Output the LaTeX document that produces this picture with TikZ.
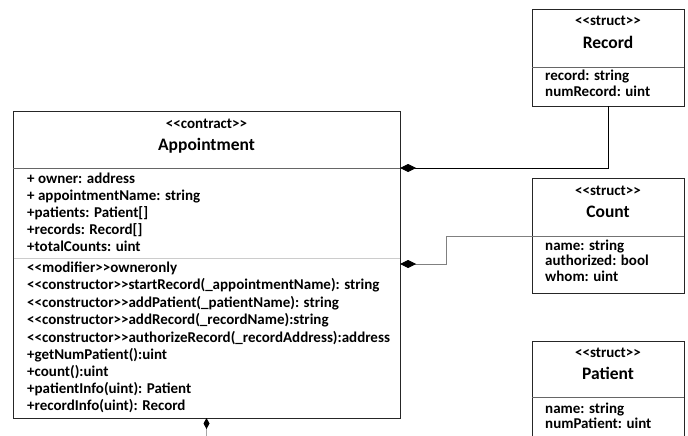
\documentclass[tikz,border=0pt]{standalone}
\usepackage{fontspec}
\setmainfont{Carlito}
\usetikzlibrary{arrows.meta}
\newcommand{\lt}{<{}<}
\newcommand{\gt}{>{}>}
\begin{document}
\begin{tikzpicture}[x=1pt,y=-1pt,
  box/.style={draw=black!85,line width=0.9pt,fill=white},
  row/.style={anchor=mid west,inner sep=0pt,font=\bfseries\fontsize{15}{17}\selectfont},
  stereo/.style={anchor=mid,inner sep=0pt,font=\bfseries\fontsize{15}{17}\selectfont},
  title/.style={anchor=mid,inner sep=0pt,font=\bfseries\fontsize{17.5}{20}\selectfont},
  darkdiv/.style={draw=black!60,line width=0.9pt},
  lightdiv/.style={draw=black!20,line width=0.9pt},
  comp/.style={line width=0.8pt,-{Diamond[length=16pt,width=8pt,color=black]}},
  smallcomp/.style={line width=0.8pt,-{Diamond[length=11pt,width=6pt,color=black]}},
]
\useasboundingbox (0,0) rectangle (688,436);

% contract class
\node[box,minimum width=387pt,minimum height=307pt,inner sep=0pt] (app) at (206.5,264.5) {};
\draw[darkdiv] (13,168) -- (400,168);
\draw[lightdiv] (13.5,258) -- (399.5,258);
\node[stereo] (appst) at (206.5,126) {\lt contract\gt};
\node[title] (appti) at (206.5,148) {Appointment};
\node[row] (a1) at (27,181) {+ owner: address};
\node[row] (a2) at (27,198) {+ appointmentName: string};
\node[row] (a3) at (27,215) {+patients: Patient[]};
\node[row] (a4) at (27,232) {+records: Record[]};
\node[row] (a5) at (27,249) {+totalCounts: uint};
\node[row] (m1) at (27,270) {\lt modifier\gt owneronly};
\node[row] (m2) at (27,287.5) {\lt constructor\gt startRecord(\_appointmentName): string};
\node[row] (m3) at (27,305) {\lt constructor\gt addPatient(\_patientName): string};
\node[row] (m4) at (27,322.5) {\lt constructor\gt addRecord(\_recordName):string};
\node[row] (m5) at (27,340) {\lt constructor\gt authorizeRecord(\_recordAddress):address};
\node[row] (m6) at (27,357) {+getNumPatient():uint};
\node[row] (m7) at (27,374) {+count():uint};
\node[row] (m8) at (27,391) {+patientInfo(uint): Patient};
\node[row] (m9) at (27,408) {+recordInfo(uint): Record};

% struct Record
\node[box,minimum width=152pt,minimum height=97pt,inner sep=0pt] (rec) at (608,57.5) {};
\draw[darkdiv] (532,67) -- (684,67);
\node[stereo] (recst) at (608,23) {\lt struct\gt};
\node[title] (recti) at (608,46) {Record};
\node[row] (r1) at (545,78) {record: string};
\node[row] (r2) at (545,94) {numRecord: uint};

% struct Count
\node[box,minimum width=152pt,minimum height=115pt,inner sep=0pt] (cnt) at (608,235.5) {};
\draw[draw=black!55,line width=0.8pt] (532,236) -- (684,236);
\node[stereo] (cntst) at (608,193) {\lt struct\gt};
\node[title] (cntti) at (608,215) {Count};
\node[row] (c1) at (545,248) {name: string};
\node[row] (c2) at (545,263) {authorized: bool};
\node[row] (c3) at (545,279) {whom: uint};

% struct Patient
\node[box,minimum width=152pt,minimum height=110pt,inner sep=0pt] (pat) at (608,396) {};
\draw[darkdiv] (532,397) -- (684,397);
\node[stereo] (patst) at (608,355) {\lt struct\gt};
\node[title] (patti) at (608,377) {Patient};
\node[row] (p1) at (545,411) {name: string};
\node[row] (p2) at (545,426) {numPatient: uint};

% composition connectors
\coordinate (recend) at (400,168);
\coordinate (cntend) at (400,264);
\coordinate (cntbend) at (446,236);
\coordinate (patend) at (206.5,418);
\coordinate (patfree) at (206.5,440);
\draw[comp,draw=black] (rec.south) |- (recend);
\draw[comp,draw=black!50] (cnt.west |- cntbend) -- (cntbend) |- (cntend);
\draw[smallcomp,draw=black!35] (patfree) -- (patend);
\end{tikzpicture}
\end{document}
